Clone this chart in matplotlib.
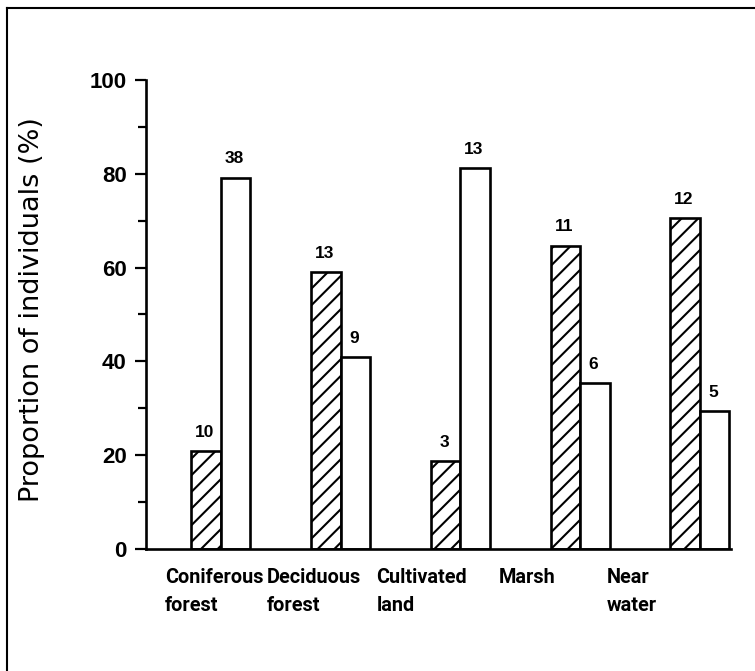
import matplotlib
matplotlib.use("Agg")
import matplotlib.pyplot as plt
from matplotlib.lines import Line2D
import numpy as np

# habitat categories (two-line labels)
habitats = ["Coniferous\nforest", "Deciduous\nforest", "Cultivated\nland",
            "Marsh", "Near\nwater"]
# proportions (%)
pct_hatched = [20.8, 59.1, 18.8, 64.7, 70.6]
pct_open    = [79.2, 40.9, 81.2, 35.3, 29.4]
# counts printed above the bars
n_hatched = [10, 13, 3, 11, 12]
n_open    = [38, 9, 13, 6, 5]

yticks = [0, 20, 40, 60, 80, 100]

plt.rcParams['font.family'] = ['Liberation Sans', 'DejaVu Sans']
plt.rcParams['hatch.linewidth'] = 1.5

fig = plt.figure(figsize=(7.55, 6.71), dpi=100)
ax = fig.add_axes([0.1934, 0.1818, 0.7749, 0.699])

x = np.arange(len(habitats))
w = 0.246

b1 = ax.bar(x - w/2, pct_hatched, w, facecolor="white", edgecolor="black",
            linewidth=1.9, hatch="//")
b2 = ax.bar(x + w/2, pct_open, w, facecolor="white", edgecolor="black",
            linewidth=1.9)

for bars, counts in ((b1, n_hatched), (b2, n_open)):
    for b, n in zip(bars, counts):
        ax.annotate(str(n), (b.get_x() + b.get_width()/2, b.get_height()),
                    xytext=(-1, 8), textcoords="offset points",
                    ha="center", va="bottom", fontsize=12.5, fontweight="bold")

# category labels, left aligned under each group
lab_shift = [-0.467, -0.617, -0.70, -0.683, -0.775]
for i, lab in enumerate(habitats):
    ax.text(x[i] + lab_shift[i], -0.04, lab, transform=ax.get_xaxis_transform(),
            ha="left", va="top", fontsize=14.3, fontweight="bold",
            family=['Roboto', 'Liberation Sans'], linespacing=1.6)

ax.set_xlim(-0.625, 4.26)
ax.set_ylim(0, 100)
ax.set_xticks([])
ax.set_yticks(yticks)
ax.set_yticks(np.arange(10, 100, 20), minor=True)
ax.tick_params(axis="y", which="major", length=8, width=1.6, pad=6,
               labelsize=16)
ax.tick_params(axis="y", which="minor", length=6, width=1.6)
for t in ax.get_yticklabels():
    t.set_fontweight("bold")

for s in ("top", "right"):
    ax.spines[s].set_visible(False)
ax.spines["left"].set_linewidth(1.9)
ax.spines["bottom"].set_linewidth(1.9)

ax.set_ylabel("Proportion of individuals (%)", fontsize=19.5,
              family=['DejaVu Sans'])
ax.yaxis.set_label_coords(-0.173, 0.51)

# page border visible at left and top of the scan
fig.add_artist(Line2D([0.0093, 0.0093], [0.0, 0.988], color="black", lw=1.5))
fig.add_artist(Line2D([0.0093, 1.0], [0.988, 0.988], color="black", lw=1.5))

fig.savefig("out.png", dpi=100)
